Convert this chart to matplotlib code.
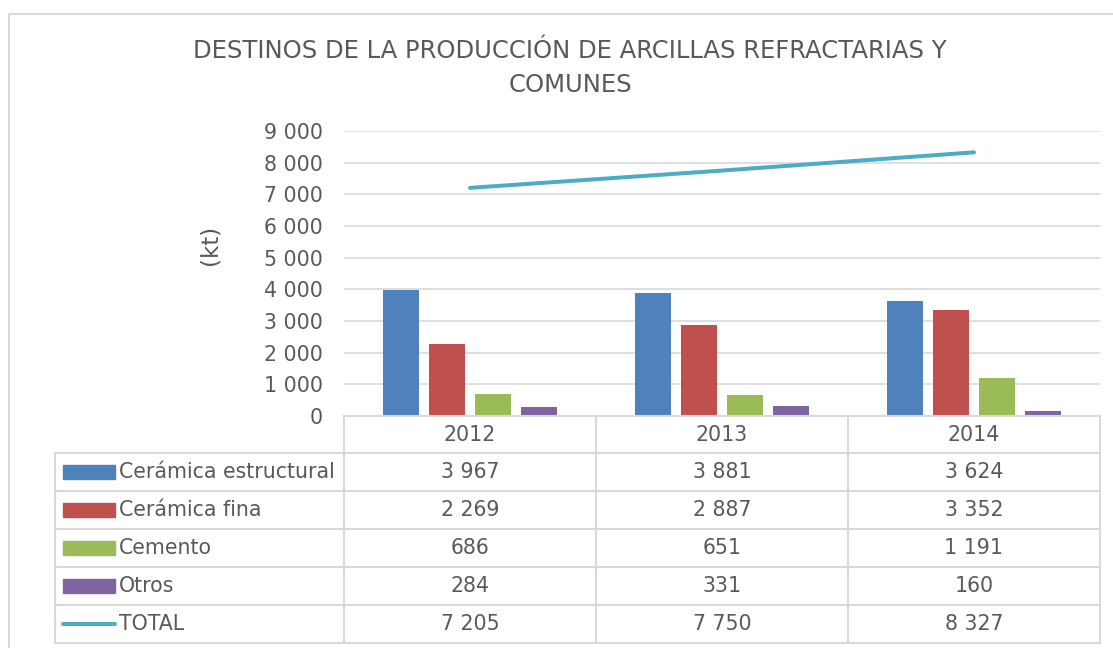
import numpy as np
import matplotlib
matplotlib.use('Agg')
import matplotlib.pyplot as plt
from matplotlib.lines import Line2D
from matplotlib.patches import Rectangle
from matplotlib.ticker import FuncFormatter, MultipleLocator
from matplotlib.transforms import blended_transform_factory

years = ['2012', '2013', '2014']
series_names = ['Cerámica estructural', 'Cerámica fina', 'Cemento', 'Otros']
ceramica_estructural = [3967, 3881, 3624]
ceramica_fina = [2269, 2887, 3352]
cemento = [686, 651, 1191]
otros = [284, 331, 160]
total = [7205, 7750, 8327]

bar_colors = ['#4F81BD', '#C0504D', '#9BBB59', '#8064A2']
line_color = '#4BACC6'
grid_color = '#D9D9D9'
text_color = '#595959'

W, H = 1113, 648


def fx(x):
    return x / W


def fy(y):
    return 1 - y / H


def fmt(v):
    return f'{v:,.0f}'.replace(',', '\u00a0')


def main():
    plt.rcParams['font.family'] = ['DejaVu Sans']
    fig = plt.figure(figsize=(W / 100, H / 100), dpi=100)

    # plot area
    ax = fig.add_axes([fx(344), fy(416), (1100 - 344) / W, (416 - 131) / H])
    x = np.arange(len(years))
    step = 46 / 252
    width = 36 / 252
    bar_series = [ceramica_estructural, ceramica_fina, cemento, otros]
    for i, vals in enumerate(bar_series):
        ax.bar(x + (i - 1.5) * step, vals, width, color=bar_colors[i], zorder=2)
    ax.plot(x, total, color=line_color, lw=4 * 0.72, solid_capstyle='round', zorder=3)

    ax.set_xlim(-0.5, len(years) - 0.5)
    ax.set_ylim(0, 9000)
    ax.yaxis.set_major_locator(MultipleLocator(1000))
    ax.yaxis.set_major_formatter(FuncFormatter(lambda v, p: fmt(v)))
    ax.grid(axis='y', color=grid_color, lw=1.2, zorder=0)
    ax.set_xticks([])
    ax.tick_params(axis='y', length=0, pad=15, labelsize=14.8, labelcolor=text_color)
    for s in ['top', 'right', 'left']:
        ax.spines[s].set_visible(False)
    ax.spines['bottom'].set_color(grid_color)
    ax.spines['bottom'].set_linewidth(1.5)

    # title and axis label
    fig.text(fx(570), fy(51), 'DESTINOS DE LA PRODUCCIÓN DE ARCILLAS REFRACTARIAS Y',
             ha='center', va='center', fontsize=17.5, color=text_color)
    fig.text(fx(570), fy(85), 'COMUNES', ha='center', va='center', fontsize=17.5, color=text_color)
    fig.text(fx(210), fy(245), '(kt)', ha='center', va='center', rotation=90,
             fontsize=16.5, color=text_color)

    # data table below the plot
    col_edges = [344, 596, 848, 1100]
    row_edges = [453, 491, 529, 567, 605, 643]
    lw = 1.5
    for cx in col_edges:
        fig.add_artist(Line2D([fx(cx), fx(cx)], [fy(416), fy(643)], color=grid_color, lw=lw))
    fig.add_artist(Line2D([fx(55), fx(55)], [fy(453), fy(643)], color=grid_color, lw=lw))
    for ry in row_edges:
        fig.add_artist(Line2D([fx(55), fx(1100)], [fy(ry), fy(ry)], color=grid_color, lw=lw))

    tr = blended_transform_factory(ax.transData, fig.transFigure)
    for j, yr in enumerate(years):
        fig.text(j, fy(435), yr, transform=tr, ha='center', va='center',
                 fontsize=14.8, color=text_color)

    table_rows = bar_series + [total]
    labels = series_names + ['TOTAL']
    for r, (name, vals) in enumerate(zip(labels, table_rows)):
        yc = row_edges[r] + 19
        if r < len(bar_series):
            fig.add_artist(Rectangle((fx(63), fy(yc + 7)), fx(52), 14 / H,
                                     color=bar_colors[r]))
        else:
            fig.add_artist(Line2D([fx(63), fx(115)], [fy(yc), fy(yc)], color=line_color,
                                  lw=4 * 0.72, solid_capstyle='round'))
        fig.text(fx(119), fy(yc), name, ha='left', va='center', fontsize=14.8, color=text_color)
        for j, v in enumerate(vals):
            fig.text(j, fy(yc), fmt(v), transform=tr, ha='center', va='center',
                     fontsize=14.8, color=text_color)

    # chart frame
    fig.add_artist(Line2D([fx(9), fx(9), fx(1113)], [fy(648), fy(14), fy(14)],
                          color=grid_color, lw=1.5))

    fig.savefig('out.png', dpi=100)


if __name__ == '__main__':
    main()
